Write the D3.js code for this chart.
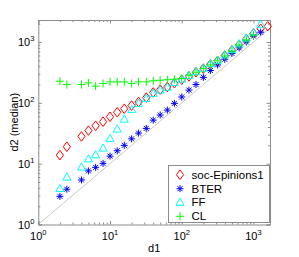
<!DOCTYPE html>
<html>
<head>
<meta charset="utf-8">
<script src="https://cdn.jsdelivr.net/npm/d3@7"></script>
<style>
body { margin: 0; background: #fff; }
svg { display: block; font-family: "Liberation Sans", Arial, sans-serif; }
</style>
</head>
<body>
<div id="chart"></div>
<script>
// binned degree d1 (shared x values)
const degrees = [2, 2.5, 4, 5, 6.3, 8, 10, 12.6, 15.8, 20, 25, 32, 40, 50, 63, 79, 100,
                 126, 158, 200, 251, 316, 398, 501, 631, 794, 1000, 1259, 1585];

// median d2 per series, index-aligned with degrees
const epinions = [13.8, 19, 28, 35, 42, 49, 59, 70, 80, 90, 103, 122, 148, 165, 182, 210, 240,
                  272, 318, 365, 430, 490, 600, 730, 900, 1120, 1380, 1650, 1820];
const bter = [2.9, 3.8, 5.4, 7.6, 8.7, 10.1, 13.3, 16.3, 20, 25.6, 31.8, 38, 52, 63, 76, 98, 125,
              162, 200, 262, 340, 420, 520, 650, 800, 1000, 1250, 1450];
const ff = [3.9, 6.0, 8.8, 12, 14, 18, 26, 37, 54, 78, 98, 118, 143, 162, 180, 215, 245,
            280, 325, 370, 440, 500, 615, 750, 930, 1160, 1450, 1960];
const cl = [227, 200, 200, 213, 188, 208, 221, 221, 221, 208, 221, 221, 230, 235, 240, 245, 251,
            285, 318, 365, 420, 490, 590, 710, 890, 1080, 1300];

const seriesNames = ["soc-Epinions1", "BTER", "FF", "CL"];
const xTickLabels = ["0", "1", "2", "3"];
const yTickLabels = ["0", "1", "2", "3"];

const width = 299, height = 257;
const margin = {top: 20, right: 29, bottom: 32.5, left: 38.3};

const svg = d3.select("#chart").append("svg")
    .attr("width", width)
    .attr("height", height);

svg.append("rect").attr("width", width).attr("height", height).attr("fill", "white");

const x = d3.scaleLog().domain([1, 1700]).range([margin.left, width - margin.right]);
const y = d3.scaleLog().domain([1, 2300]).range([height - margin.bottom, margin.top]);

const axisColor = "#8c8c8c";

// diagonal y = x
svg.append("defs").append("clipPath").attr("id", "plotclip")
  .append("rect")
    .attr("x", x(1)).attr("y", y(2300))
    .attr("width", x(1700) - x(1)).attr("height", y(1) - y(2300));

svg.append("line")
    .attr("clip-path", "url(#plotclip)")
    .attr("x1", x(1)).attr("y1", y(1))
    .attr("x2", x(1700)).attr("y2", y(1700))
    .attr("stroke", "#c8c8c8")
    .attr("stroke-width", 1);

// box + ticks (inward, all four sides)
function minorTicks(dom) {
  const out = [];
  for (let p = 0; p <= 3; p++) {
    for (let m = 2; m <= 9; m++) {
      const v = m * Math.pow(10, p);
      if (v > dom[0] && v < dom[1]) out.push(v);
    }
  }
  return out;
}
const majors = [1, 10, 100, 1000];

function addAxis(axisFn, scale, transform) {
  svg.append("g").attr("transform", transform)
    .call(axisFn(scale).tickValues(majors).tickSize(-3.5).tickFormat(""))
    .call(g => g.select(".domain").attr("stroke", axisColor))
    .call(g => g.selectAll(".tick line").attr("stroke", axisColor));
  svg.append("g").attr("transform", transform)
    .call(axisFn(scale).tickValues(minorTicks(scale.domain())).tickSize(-2).tickFormat(""))
    .call(g => g.select(".domain").remove())
    .call(g => g.selectAll(".tick line").attr("stroke", axisColor));
}
addAxis(d3.axisBottom, x, `translate(0,${y(1)})`);
addAxis(d3.axisTop, x, `translate(0,${y(2300)})`);
addAxis(d3.axisLeft, y, `translate(${x(1)},0)`);
addAxis(d3.axisRight, y, `translate(${x(1700)},0)`);

// tick labels 10^k
svg.append("g").selectAll("text")
  .data(majors)
  .join("text")
    .attr("x", d => x(d))
    .attr("y", y(1) + 15)
    .attr("text-anchor", "middle")
    .attr("font-size", 11)
    .each(function(d, i) {
      const t = d3.select(this);
      t.append("tspan").text("10");
      t.append("tspan").attr("dy", -5).attr("font-size", 7.5).text(xTickLabels[i]);
    });

svg.append("g").selectAll("text")
  .data(majors)
  .join("text")
    .attr("x", x(1) - 4)
    .attr("y", d => y(d) + 4)
    .attr("text-anchor", "end")
    .attr("font-size", 11)
    .each(function(d, i) {
      const t = d3.select(this);
      t.append("tspan").text("10");
      t.append("tspan").attr("dy", -5).attr("font-size", 7.5).text(yTickLabels[i]);
    });

svg.append("text")
    .attr("x", (x(1) + x(1700)) / 2)
    .attr("y", 252)
    .attr("text-anchor", "middle")
    .attr("font-size", 11)
    .text("d1");

svg.append("text")
    .attr("transform", `translate(18,${(y(1) + y(2300)) / 2}) rotate(-90)`)
    .attr("text-anchor", "middle")
    .attr("font-size", 11)
    .text("d2 (median)");

// markers
const markers = {
  diamond: "M0,-4.8L3.6,0L0,4.8L-3.6,0Z",
  star: "M-3.5,0H3.5M0,-3.5V3.5M-2.5,-2.5L2.5,2.5M-2.5,2.5L2.5,-2.5",
  triangle: "M0,-4.2L4,3L-4,3Z",
  plus: "M-4,0H4M0,-4V4"
};

const series = [
  {name: seriesNames[0], values: epinions, color: "#ff0000", shape: "diamond"},
  {name: seriesNames[1], values: bter, color: "#0000ff", shape: "star"},
  {name: seriesNames[2], values: ff, color: "#00ffff", shape: "triangle"},
  {name: seriesNames[3], values: cl, color: "#00ff00", shape: "plus"}
];

series.forEach(s => {
  svg.append("g").selectAll("path")
    .data(s.values.map((v, i) => [degrees[i], v]))
    .join("path")
      .attr("transform", d => `translate(${x(d[0])},${y(d[1])})`)
      .attr("d", markers[s.shape])
      .attr("fill", "none")
      .attr("stroke", s.color)
      .attr("stroke-width", 1);
});

// legend
const legend = svg.append("g");
legend.append("rect")
    .attr("x", 168.5).attr("y", 165.5)
    .attr("width", 101).attr("height", 57)
    .attr("fill", "white")
    .attr("stroke", axisColor);

const rowY = [174.7, 188.7, 202.3, 216.3];
series.forEach((s, i) => {
  legend.append("path")
      .attr("transform", `translate(180,${rowY[i]})`)
      .attr("d", markers[s.shape])
      .attr("fill", "none")
      .attr("stroke", s.color);
  legend.append("text")
      .attr("x", 191.5)
      .attr("y", rowY[i] + 4)
      .attr("font-size", 11.5)
      .text(s.name);
});
</script>
</body>
</html>
